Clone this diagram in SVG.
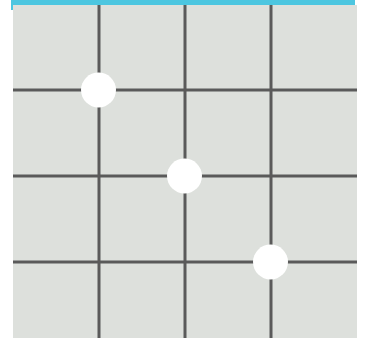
<svg xmlns="http://www.w3.org/2000/svg" width="366" height="338" viewBox="0 0 366 338">
<style>
.grid line{stroke:#5a5a5a;stroke-width:3}
.dot{fill:#ffffff}
</style>
<rect x="0" y="0" width="366" height="338" fill="#ffffff"/>
<rect x="11" y="0" width="344" height="10" fill="#4cc6e0"/>
<rect x="13" y="5" width="344" height="333" fill="#dde0dc"/>
<g id="connectors" class="grid">
<line x1="99" y1="5" x2="99" y2="338"/>
<line x1="185" y1="5" x2="185" y2="338"/>
<line x1="271" y1="5" x2="271" y2="338"/>
<line x1="13" y1="90" x2="357" y2="90"/>
<line x1="13" y1="176" x2="357" y2="176"/>
<line x1="13" y1="262" x2="357" y2="262"/>
</g>
<g id="node1"><circle class="dot" cx="98.5" cy="90" r="17.5"/></g>
<g id="node2"><circle class="dot" cx="184.5" cy="176" r="17.5"/></g>
<g id="node3"><circle class="dot" cx="270.5" cy="262" r="17.5"/></g>
</svg>
